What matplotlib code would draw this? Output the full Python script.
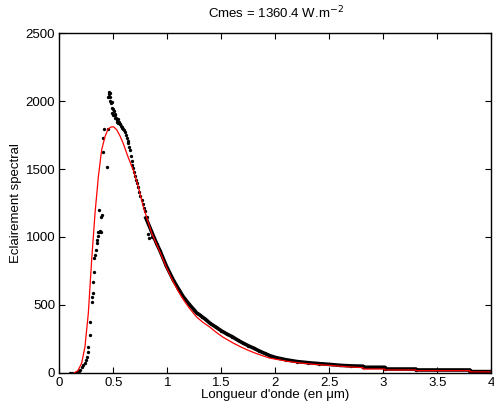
import numpy as np
import matplotlib
matplotlib.use("Agg")
import matplotlib.pyplot as plt

plt.rcParams['font.family'] = ['Liberation Sans', 'DejaVu Sans']

# measured points, scattered part (wavelength in um, irradiance)
lam_scatter = [0.10, 0.12, 0.14, 0.16, 0.18, 0.19, 0.205, 0.22, 0.235, 0.25,
               0.255, 0.262, 0.267, 0.282, 0.282, 0.30, 0.305, 0.31, 0.313, 0.322,
               0.322, 0.33, 0.337, 0.344, 0.35, 0.355, 0.36, 0.37, 0.375, 0.38,
               0.37, 0.385, 0.39, 0.40, 0.406, 0.415, 0.437, 0.452, 0.452, 0.455,
               0.46, 0.465, 0.468, 0.472, 0.478, 0.483, 0.487, 0.49, 0.495, 0.50,
               0.505, 0.51, 0.514, 0.518, 0.522, 0.53, 0.535, 0.54, 0.545, 0.55,
               0.556, 0.562, 0.568, 0.576, 0.583, 0.59, 0.598, 0.606, 0.614, 0.622,
               0.63, 0.637, 0.645, 0.652, 0.66, 0.668, 0.676, 0.684, 0.692, 0.70,
               0.71, 0.72, 0.73, 0.74, 0.75, 0.76, 0.77, 0.78, 0.79, 0.807,
               0.822, 0.83, 0.853]
val_scatter = [0, 0, 0, 5, 10, 20, 44, 55, 69, 90,
               118, 150, 191, 278, 376, 523, 560, 585, 670, 744,
               845, 870, 904, 955, 977, 1010, 1039, 1039, 1045, 1039,
               1198, 1149, 1161, 1628, 1726, 1795, 1517, 1795, 2032, 2069,
               2050, 2060, 2030, 2000, 1985, 1996, 1950, 1910, 1940, 1900,
               1930, 1895, 1905, 1880, 1875, 1860, 1850, 1870, 1840, 1845,
               1835, 1830, 1820, 1810, 1800, 1795, 1785, 1770, 1750, 1730,
               1710, 1690, 1665, 1640, 1600, 1560, 1530, 1505, 1475, 1450,
               1420, 1395, 1370, 1330, 1300, 1270, 1240, 1215, 1190, 1150,
               1020, 990, 1002]

# measured points, dense part (drawn as a thick band)
lam_dense = [0.80, 0.85, 0.90, 0.93, 0.99, 1.054, 1.10, 1.146, 1.20, 1.25,
             1.27, 1.30, 1.32, 1.35, 1.394, 1.45, 1.50, 1.55, 1.60, 1.65,
             1.70, 1.75, 1.80, 1.85, 1.90, 1.95, 2.00, 2.10, 2.20, 2.30,
             2.40, 2.50, 2.60, 2.70, 2.81, 2.81, 3.01, 3.01, 3.30, 3.30,
             3.80, 3.80, 4.00]
val_dense = [1140, 1045, 950, 900, 785, 683, 620, 560, 505, 460,
             440, 425, 412, 395, 364, 335, 308, 285, 265, 240,
             218, 198, 180, 160, 142, 125, 112, 95, 82, 74,
             67, 61, 54, 50, 48, 40, 40, 27, 27, 20,
             20, 8, 8]

# model curve
lam_model = [0.14, 0.17, 0.205, 0.236, 0.267, 0.298, 0.329, 0.36, 0.39, 0.421,
             0.45, 0.48, 0.50, 0.53, 0.56, 0.59, 0.63, 0.683, 0.73, 0.776,
             0.853, 0.93, 0.99, 1.054, 1.10, 1.146, 1.20, 1.27, 1.33, 1.394,
             1.45, 1.517, 1.60, 1.671, 1.733, 1.80, 1.887, 1.95, 2.04, 2.10,
             2.20, 2.35, 2.50, 2.66, 2.81, 2.81, 3.01, 3.01, 3.30, 3.30,
             3.80, 3.80, 4.00]
val_model = [0, 15, 69, 191, 437, 830, 1174, 1444, 1640, 1738,
             1795, 1811, 1812, 1790, 1745, 1690, 1600, 1493, 1370, 1223,
             1030, 890, 775, 668, 600, 540, 478, 410, 370, 335,
             298, 260, 222, 193, 170, 148, 123, 107, 94, 85,
             74, 62, 54, 44, 37, 27, 27, 20, 20, 15,
             15, 6, 6]

fig = plt.figure(figsize=(4.94, 4.12), dpi=100)
ax = fig.add_axes([0.1204, 0.0954, 0.8745, 0.8236])

ax.plot(lam_dense, val_dense, color='k', lw=2.6, solid_joinstyle='round')
ax.plot(lam_scatter, val_scatter, 'o', color='k', ms=2.4, mew=0)
ax.plot(lam_dense, val_dense, 'o', color='k', ms=2.4, mew=0)
ax.plot(lam_model, val_model, color='#ff0000', lw=0.9)

ax.set_xlim(0, 4)
ax.set_ylim(0, 2500)
xt = [0, 0.5, 1, 1.5, 2, 2.5, 3, 3.5, 4]
ax.set_xticks(xt)
ax.set_xticklabels([('%g' % t) for t in xt])
ax.set_yticks([0, 500, 1000, 1500, 2000, 2500])
ax.tick_params(direction='in', length=4, width=0.8, labelsize=9.5,
               top=True, right=True, pad=3)
for s in ax.spines.values():
    s.set_linewidth(1.0)

ax.set_title('Cmes = 1360.4 W.m$^{-2}$', fontsize=9.5, pad=11)
ax.set_xlabel('Longueur d\'onde (en μm)', fontsize=9.5, labelpad=0)
ax.set_ylabel('Eclairement spectral', fontsize=9.5, labelpad=3)

fig.savefig('out.png', dpi=100)
